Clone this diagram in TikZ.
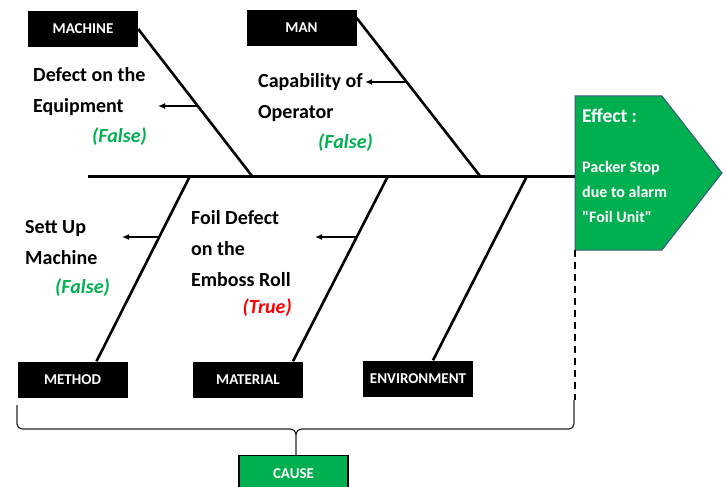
\documentclass[tikz,border=0pt]{standalone}
\usepackage{fontspec}
\setmainfont{Carlito}[Ligatures=TeXOff]
\usetikzlibrary{arrows.meta}
\definecolor{effectgreen}{RGB}{0,176,80}
\definecolor{truered}{RGB}{255,0,0}
\definecolor{edgeblue}{RGB}{65,85,125}

\begin{document}
\begin{tikzpicture}[x=1pt, y=-1pt,
        catbox/.style={fill=black, text=white, font=\bfseries\fontsize{15}{18}\selectfont, minimum width=110, minimum height=36, inner sep=0pt},
        bone/.style={line width=2.6pt},
        arm/.style={line width=1.8pt, -{Latex[length=7pt,width=6pt]}},
        reason/.style={font=\bfseries\fontsize{20}{31}\selectfont, align=left, anchor=west, inner sep=0pt},
        verdict/.style={font=\bfseries\itshape\fontsize{20}{24}\selectfont, anchor=east, inner sep=0pt},
        bracket/.style={line width=1.2pt, black!85}]
        \clip (0,0) rectangle (726,487);

        % Effect head
        \draw[fill=effectgreen, draw=edgeblue, line width=1pt] (575,96) -- (662,96) -- (722,173) -- (662,250) -- (575,250) -- cycle;
        \node[anchor=west, inner sep=0pt, text=white, font=\bfseries\fontsize{19.5}{22}\selectfont] (effecttitle) at (582,116) {Effect :};
        \node[anchor=west, inner sep=0pt, text=white, align=left, font=\bfseries\fontsize{16}{25}\selectfont] (effecttext) at (582,192) {Packer Stop\\due to alarm\\"Foil Unit"};
        \coordinate (effect) at (575,176);
        \coordinate (effectbase) at (575,250);
        \coordinate (tail) at (88,176);

        % Category boxes
        \node[catbox] (machine) at (83,29) {MACHINE};
        \node[catbox] (man) at (301.5,28) {MAN};
        \node[catbox] (method) at (72.5,379.5) {METHOD};
        \node[catbox] (material) at (248,379.5) {MATERIAL};
        \node[catbox] (environment) at (418,378.5) {ENVIRONMENT};
        \node[catbox, fill=effectgreen, draw=black, line width=1.2pt, minimum width=109, anchor=north] (cause) at (293.5,455) {CAUSE};

        % Joints on the spine
        \coordinate (machinejoint) at (252,176);
        \coordinate (manjoint) at (480,176);
        \coordinate (methodjoint) at (190,176);
        \coordinate (materialjoint) at (388,176);
        \coordinate (environmentjoint) at (527,176);

        % Spine and bones
        \draw[line width=3pt] (tail) -- (effect);
        \draw[bone] (machine.east) -- (machinejoint);
        \draw[bone] ([yshift=10pt]man.east) -- (manjoint);
        \draw[bone] (methodjoint) -- ([xshift=24pt]method.north);
        \draw[bone] (materialjoint) -- ([xshift=45pt]material.north);
        \draw[bone] (environmentjoint) -- ([xshift=15pt]environment.north);

        % Small arrows off the bones
        \coordinate (machinearm) at (198,106);
        \coordinate (machinetip) at (158,106);
        \coordinate (manarm) at (407,82);
        \coordinate (mantip) at (365,82);
        \coordinate (methodarm) at (159,237);
        \coordinate (methodtip) at (122,237);
        \coordinate (materialarm) at (357,237);
        \coordinate (materialtip) at (315,237);
        \foreach \name in {machine, man, method, material} {
            \draw[arm] (\name arm) -- (\name tip);
        }

        % Reasons and verdicts
        \node[reason] (machinereason) at (33,91.5) {Defect on the\\Equipment};
        \node[verdict, text=effectgreen] (machineverdict) at (147,137) {(False)};
        \node[reason] (manreason) at (258,97.5) {Capability of\\Operator};
        \node[verdict, text=effectgreen] (manverdict) at (373,143) {(False)};
        \node[reason] (methodreason) at (25,243) {Sett Up\\Machine};
        \node[verdict, text=effectgreen] (methodverdict) at (110,288) {(False)};
        \node[reason] (materialreason) at (191,249) {Foil Defect\\on the\\Emboss Roll};
        \node[verdict, text=truered] (materialverdict) at (292,308) {(True)};

        % Brace down to the cause box
        \draw[dashed, line width=1.2pt, dash pattern=on 7pt off 5pt] (effectbase) -- (575,400);
        \draw[bracket] (17,405) -- (17,424) to[out=-90, in=180] (22,429) -- (290,429) to[out=0, in=90] (296,435) -- (cause.north -| 296,0);
        \draw[bracket] (574,400) -- (574,424) to[out=-90, in=0] (569,429) -- (302,429) to[out=180, in=90] (296,435);
    \end{tikzpicture}
\end{document}
